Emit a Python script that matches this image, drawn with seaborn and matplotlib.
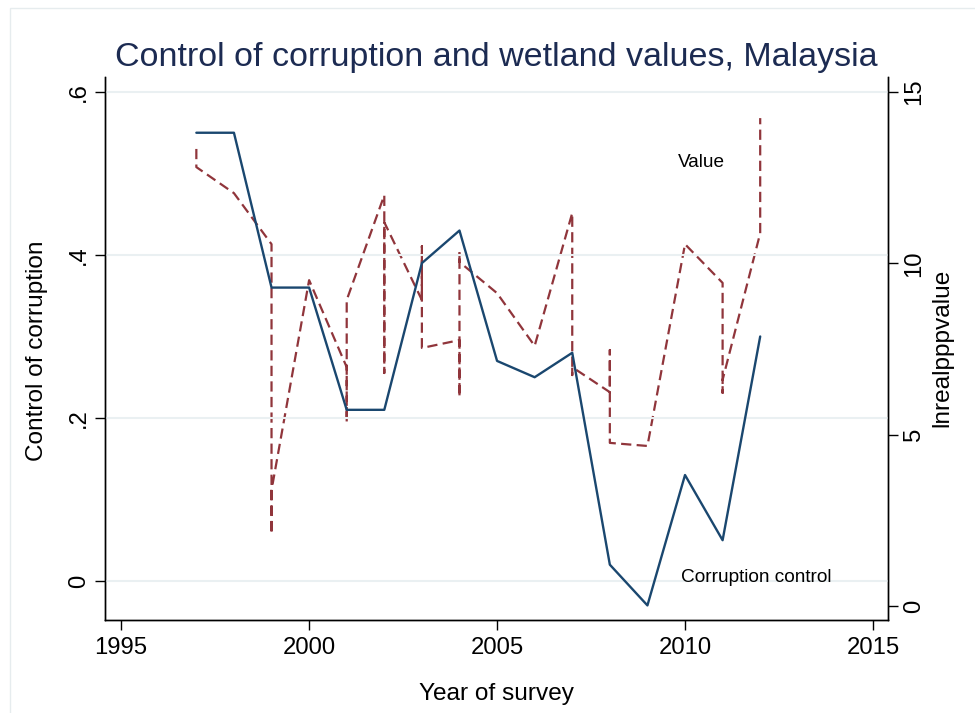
import pandas as pd
import numpy as np
import matplotlib
matplotlib.use("Agg")
import matplotlib.pyplot as plt
import seaborn as sns
from matplotlib.patches import Rectangle

# --- data ---
cc_years = [1997, 1998, 1999, 2000, 2001, 2002, 2003, 2004,
            2005, 2006, 2007, 2008, 2009, 2010, 2011, 2012]
corruption = [0.55, 0.55, 0.36, 0.36, 0.21, 0.21, 0.39, 0.43,
              0.27, 0.25, 0.28, 0.02, -0.03, 0.13, 0.05, 0.30]

# several wetland valuations per survey year, kept in file order
value_years = [1997, 1997, 1998, 1999, 1999, 1999, 2000,
               2001, 2001, 2001, 2002, 2002, 2002, 2003, 2003, 2003,
               2004, 2004, 2004, 2004, 2005, 2006, 2007, 2007, 2007,
               2008, 2008, 2008, 2009, 2010, 2011, 2011, 2011, 2012, 2012]
lnvalue = [13.34, 12.81, 12.05, 10.56, 2.10, 3.38, 9.51,
           6.97, 5.37, 8.93, 11.99, 6.80, 11.20, 8.93, 10.50, 7.53,
           7.76, 6.10, 10.30, 10.04, 9.13, 7.59, 11.47, 6.74, 6.97,
           6.24, 7.47, 4.76, 4.67, 10.56, 9.43, 6.22, 6.60, 10.88, 14.24]

x_ticks = [1995, 2000, 2005, 2010, 2015]
left_ticks = [0, 0.2, 0.4, 0.6]
left_labels = ["0", ".2", ".4", ".6"]
right_ticks = [0, 5, 10, 15]

NAVY = '#1a476f'
MAROON = '#90353b'
GRID = '#eaf0f2'
TITLE = '#1c2b52'


def set_style():
    sns.set_theme(style='white')
    plt.rcParams['font.family'] = ['Liberation Sans', 'DejaVu Sans']
    plt.rcParams['axes.edgecolor'] = 'black'
    plt.rcParams['axes.linewidth'] = 1.0
    plt.rcParams['xtick.color'] = 'black'
    plt.rcParams['ytick.color'] = 'black'


def main():
    set_style()
    cc = pd.DataFrame({'year': cc_years, 'corruption': corruption})
    val = pd.DataFrame({'year': value_years, 'lnrealpppvalue': lnvalue})

    fig = plt.figure(figsize=(9.75, 7.13), dpi=100)
    fig.patch.set_facecolor('white')
    fig.patches.append(Rectangle((10 / 975, -0.1), 2, 1.1 - 8 / 713,
                                 transform=fig.transFigure, fill=False,
                                 edgecolor='#e6ecee', lw=1.0))

    ax = fig.add_axes([105 / 975, 1 - 620 / 713, 783 / 975, 543 / 713])
    ax2 = ax.twinx()

    for a in (ax, ax2):
        a.set_facecolor('none')
    ax.set_zorder(2)
    ax2.set_zorder(1)
    ax.patch.set_visible(False)

    # gridlines follow the left axis
    for t in left_ticks:
        ax.axhline(t, color=GRID, lw=1.5, zorder=0)

    sns.lineplot(data=val, x='year', y='lnrealpppvalue', ax=ax2,
                 estimator=None, sort=False, color=MAROON, lw=1.6)
    ax2.lines[-1].set_dashes((4.6, 2.4))

    sns.lineplot(data=cc, x='year', y='corruption', ax=ax,
                 estimator=None, sort=False, color=NAVY, lw=1.7)

    ax.set_xlim(1994.57, 2015.4)
    ax.set_ylim(-0.0479, 0.6184)
    ax2.set_ylim(-0.41, 15.44)

    ax.set_xticks(x_ticks)
    ax.set_yticks(left_ticks)
    ax.set_yticklabels(left_labels)
    ax2.set_yticks(right_ticks)

    ax.tick_params(axis='x', direction='out', length=7, width=1, pad=5,
                   labelsize=17.2, bottom=True)
    ax.tick_params(axis='y', direction='out', length=7, width=1, pad=4,
                   labelsize=17.2, labelrotation=90, left=True)
    ax2.tick_params(axis='y', direction='out', length=7, width=1, pad=4,
                    labelsize=17.2, labelrotation=90, right=True)
    for lab in ax.get_yticklabels() + ax2.get_yticklabels():
        lab.set_va('center')

    for a in (ax, ax2):
        a.spines['top'].set_visible(False)
        a.grid(False)
    ax.set_xlabel('')
    ax.set_ylabel('')
    ax2.set_ylabel('')

    ax.text(2009.81, 0.514, 'Value', fontsize=13.7, ha='left', va='center', color='black')
    ax.text(2009.9, 0.004, 'Corruption control', fontsize=13.7, ha='left', va='center', color='black')

    fig.text(496.5 / 975, 1 - 66 / 713, 'Control of corruption and wetland values, Malaysia',
             fontsize=24.5, color=TITLE, ha='center', va='baseline')
    fig.text(496.5 / 975, 1 - 700 / 713, 'Year of survey', fontsize=17.6,
             ha='center', va='baseline', color='black')
    fig.text(37 / 975, 1 - 351 / 713, 'Control of corruption', fontsize=17.6,
             rotation=90, ha='center', va='center', color='black')
    fig.text(942 / 975, 1 - 348 / 713, 'lnrealpppvalue', fontsize=17.6,
             rotation=90, ha='center', va='center', color='black')

    fig.savefig('out.png', dpi=100)
    plt.close(fig)


if __name__ == "__main__":
    main()
